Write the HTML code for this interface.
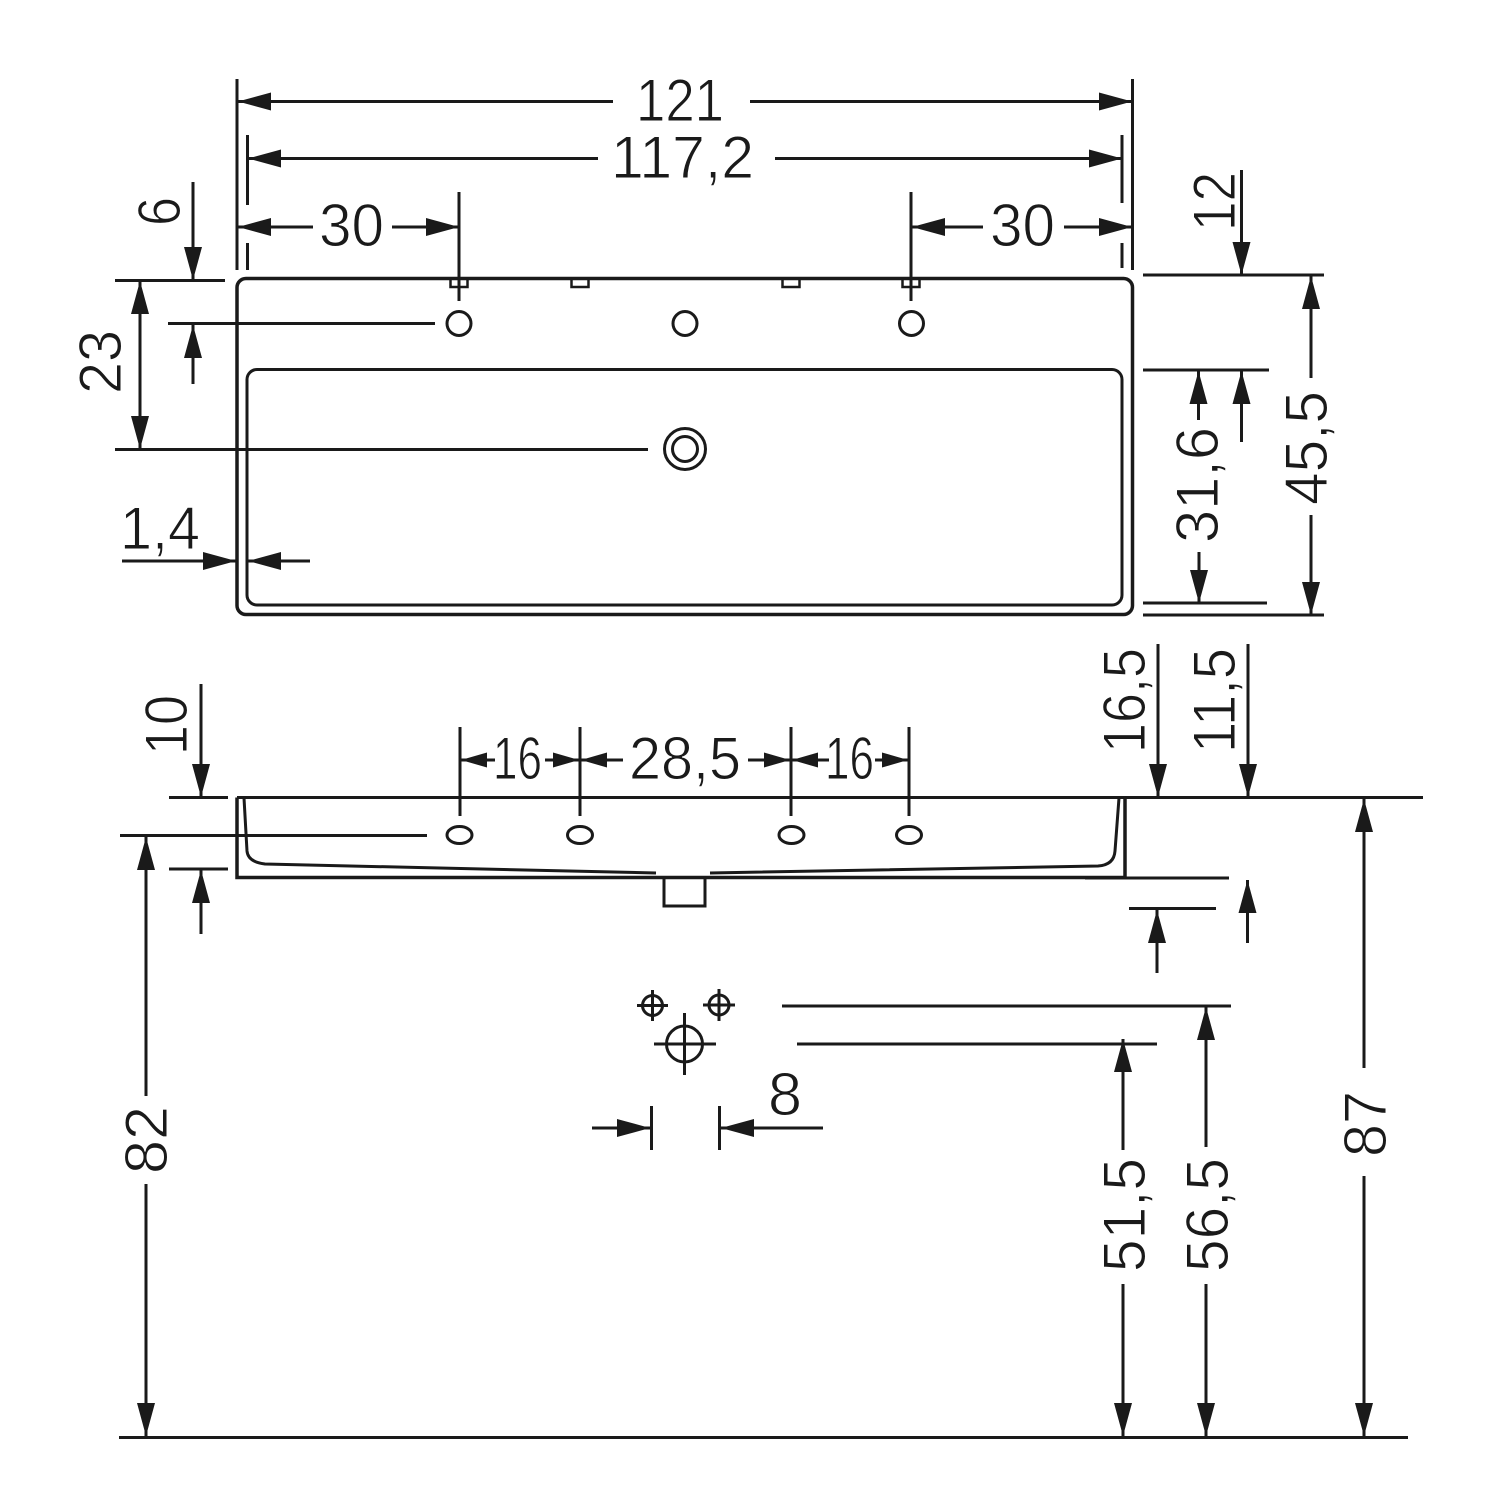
<!DOCTYPE html>
<html><head><meta charset="utf-8"><style>
html,body{margin:0;padding:0;background:#fff}
svg{display:block}
text{font-family:"Liberation Sans",sans-serif;font-size:60px;fill:#1a1a1a;stroke:#fff;stroke-width:1;paint-order:normal}
.l line,.l path,.l rect,.l circle,.l ellipse{stroke:#1a1a1a;fill:none}
.l line{stroke-width:3}
</style></head><body>
<svg width="1500" height="1500" viewBox="0 0 1500 1500" xmlns="http://www.w3.org/2000/svg">
<defs>
<marker id="a" markerUnits="userSpaceOnUse" markerWidth="34" markerHeight="18" refX="33" refY="9" orient="auto"><polygon points="0,0 33,9 0,18" fill="#1a1a1a"/></marker>
<marker id="s" markerUnits="userSpaceOnUse" markerWidth="27" markerHeight="16" refX="26" refY="7.5" orient="auto"><polygon points="0,0 26,7.5 0,15" fill="#1a1a1a"/></marker>
</defs>
<rect width="1500" height="1500" fill="#fff"/>
<g class="l">
<!-- top view shapes -->
<rect x="237" y="278.5" width="895.5" height="336" rx="9" stroke-width="3.5"/>
<rect x="247" y="369.5" width="875" height="235.5" rx="10" stroke-width="3"/>
<rect x="450.5" y="278.5" width="17" height="8.5" stroke-width="2.5"/>
<rect x="571.5" y="278.5" width="17" height="8.5" stroke-width="2.5"/>
<rect x="782.5" y="278.5" width="17" height="8.5" stroke-width="2.5"/>
<rect x="902.5" y="278.5" width="17" height="8.5" stroke-width="2.5"/>
<circle cx="459" cy="323.5" r="12" stroke-width="3"/>
<circle cx="685" cy="323.5" r="12" stroke-width="3"/>
<circle cx="911.5" cy="323.5" r="12" stroke-width="3"/>
<circle cx="685" cy="449" r="20.5" stroke-width="3"/>
<circle cx="685" cy="449" r="12.5" stroke-width="3"/>

<!-- top view extension lines -->
<line x1="237" y1="79" x2="237" y2="270"/>
<line x1="247.5" y1="135" x2="247.5" y2="205"/>
<line x1="247.5" y1="243" x2="247.5" y2="270"/>
<line x1="1132.5" y1="79" x2="1132.5" y2="270"/>
<line x1="1122" y1="135" x2="1122" y2="203"/>
<line x1="1122" y1="243" x2="1122" y2="268"/>
<line x1="459" y1="192" x2="459" y2="301"/>
<line x1="911" y1="192" x2="911" y2="301"/>
<line x1="115" y1="280.5" x2="225" y2="280.5"/>
<line x1="168" y1="323.5" x2="435" y2="323.5"/>
<line x1="115" y1="449.5" x2="648" y2="449.5"/>
<line x1="1143" y1="275" x2="1324" y2="275"/>
<line x1="1143" y1="370" x2="1269" y2="370"/>
<line x1="1143" y1="603" x2="1267" y2="603"/>
<line x1="1143" y1="615" x2="1324" y2="615"/>

<!-- top view dimensions -->
<line x1="613" y1="101.5" x2="238" y2="101.5" marker-end="url(#a)"/>
<line x1="750" y1="101.5" x2="1132" y2="101.5" marker-end="url(#a)"/>
<line x1="598" y1="158.5" x2="248" y2="158.5" marker-end="url(#a)"/>
<line x1="775" y1="158.5" x2="1122" y2="158.5" marker-end="url(#a)"/>
<line x1="313" y1="227" x2="238" y2="227" marker-end="url(#a)"/>
<line x1="392" y1="227" x2="459" y2="227" marker-end="url(#a)"/>
<line x1="983" y1="227" x2="912" y2="227" marker-end="url(#a)"/>
<line x1="1064" y1="227" x2="1132" y2="227" marker-end="url(#a)"/>
<line x1="193" y1="182" x2="193" y2="280" marker-end="url(#a)"/>
<line x1="193" y1="384" x2="193" y2="325" marker-end="url(#a)"/>
<line x1="140" y1="365" x2="140" y2="281" marker-end="url(#a)"/>
<line x1="140" y1="365" x2="140" y2="449" marker-end="url(#a)"/>
<line x1="122" y1="561" x2="236" y2="561" marker-end="url(#a)"/>
<line x1="310" y1="561" x2="248" y2="561" marker-end="url(#a)"/>
<line x1="1241.5" y1="170" x2="1241.5" y2="275" marker-end="url(#a)"/>
<line x1="1198.5" y1="420" x2="1198.5" y2="371" marker-end="url(#a)"/>
<line x1="1241.5" y1="442" x2="1241.5" y2="371" marker-end="url(#a)"/>
<line x1="1199" y1="552" x2="1199" y2="603" marker-end="url(#a)"/>
<line x1="1311" y1="378" x2="1311" y2="276" marker-end="url(#a)"/>
<line x1="1311" y1="515" x2="1311" y2="615" marker-end="url(#a)"/>

<!-- side view -->
<path d="M237 797.5V877.5H1125V797.5" stroke-width="3.5"/>
<line x1="237" y1="797.5" x2="1423" y2="797.5"/>
<line x1="1085" y1="878" x2="1229" y2="878"/>
<path d="M244 798L247 851Q248 862 265 864L656 873" stroke-width="3"/>
<path d="M710 873L1098 866Q1114 865 1115 851L1119 798" stroke-width="3"/>
<path d="M664 878V906H705V878" stroke-width="3"/>
<ellipse cx="459.500" cy="835" rx="12.500" ry="8.500" stroke-width="3"/>
<ellipse cx="580" cy="835" rx="12.500" ry="8.500" stroke-width="3"/>
<ellipse cx="791.500" cy="835" rx="12.500" ry="8.500" stroke-width="3"/>
<ellipse cx="909" cy="835" rx="12.500" ry="8.500" stroke-width="3"/>
<line x1="460" y1="727" x2="460" y2="816"/>
<line x1="580" y1="727" x2="580" y2="816"/>
<line x1="791" y1="727" x2="791" y2="816"/>
<line x1="909" y1="727" x2="909" y2="816"/>
<line x1="169" y1="797.500" x2="228" y2="797.500"/>
<line x1="120" y1="835.500" x2="427" y2="835.500"/>
<line x1="169" y1="869" x2="228" y2="869"/>
<line x1="1129" y1="908.500" x2="1216" y2="908.500"/>

<!-- side dimensions -->
<line x1="495" y1="760" x2="461" y2="760" marker-end="url(#s)"/>
<line x1="545" y1="760" x2="579" y2="760" marker-end="url(#s)"/>
<line x1="623" y1="760" x2="581" y2="760" marker-end="url(#s)"/>
<line x1="748" y1="760" x2="790" y2="760" marker-end="url(#s)"/>
<line x1="829" y1="760" x2="792" y2="760" marker-end="url(#s)"/>
<line x1="875" y1="760" x2="908" y2="760" marker-end="url(#s)"/>
<line x1="201" y1="684" x2="201" y2="797" marker-end="url(#a)"/>
<line x1="201" y1="934" x2="201" y2="870" marker-end="url(#a)"/>
<line x1="1158" y1="644" x2="1158" y2="797" marker-end="url(#a)"/>
<line x1="1248" y1="644" x2="1248" y2="797" marker-end="url(#a)"/>
<line x1="1157" y1="973" x2="1157" y2="910" marker-end="url(#a)"/>
<line x1="1247.500" y1="943" x2="1247.500" y2="880" marker-end="url(#a)"/>

<!-- holes -->
<circle cx="652.500" cy="1005.500" r="10" stroke-width="3"/>
<line x1="637" y1="1005.500" x2="668" y2="1005.500"/>
<line x1="652.500" y1="990" x2="652.500" y2="1021"/>
<circle cx="719" cy="1005" r="10" stroke-width="3"/>
<line x1="703" y1="1005" x2="735" y2="1005"/>
<line x1="719" y1="989" x2="719" y2="1021"/>
<circle cx="684.500" cy="1044" r="18" stroke-width="3"/>
<line x1="654" y1="1044" x2="716" y2="1044"/>
<line x1="684.500" y1="1013" x2="684.500" y2="1075"/>
<line x1="651.500" y1="1106" x2="651.500" y2="1150"/>
<line x1="719.500" y1="1106" x2="719.500" y2="1150"/>
<line x1="592" y1="1128" x2="650" y2="1128" marker-end="url(#a)"/>
<line x1="823" y1="1128" x2="721" y2="1128" marker-end="url(#a)"/>
<line x1="782" y1="1006" x2="1231" y2="1006"/>
<line x1="797" y1="1044" x2="1157" y2="1044"/>

<!-- long verticals -->
<line x1="119" y1="1437.500" x2="1408" y2="1437.500"/>
<line x1="146" y1="1096" x2="146" y2="837" marker-end="url(#a)"/>
<line x1="146" y1="1184" x2="146" y2="1436" marker-end="url(#a)"/>
<line x1="1364" y1="1068" x2="1364" y2="799" marker-end="url(#a)"/>
<line x1="1364" y1="1176" x2="1364" y2="1436" marker-end="url(#a)"/>
<line x1="1123" y1="1150" x2="1123" y2="1039" marker-end="url(#a)"/>
<line x1="1123" y1="1284" x2="1123" y2="1436" marker-end="url(#a)"/>
<line x1="1206" y1="1147" x2="1206" y2="1007" marker-end="url(#a)"/>
<line x1="1206" y1="1284" x2="1206" y2="1436" marker-end="url(#a)"/>
</g>

<!-- horizontal labels -->
<text x="636" y="121" textLength="88" lengthAdjust="spacingAndGlyphs">121</text>
<text x="611" y="178" textLength="143" lengthAdjust="spacingAndGlyphs">117,2</text>
<text x="319" y="246" textLength="65" lengthAdjust="spacingAndGlyphs">30</text>
<text x="990" y="246" textLength="65" lengthAdjust="spacingAndGlyphs">30</text>
<text x="120" y="549" textLength="80" lengthAdjust="spacingAndGlyphs">1,4</text>
<text x="493" y="779" textLength="49" lengthAdjust="spacingAndGlyphs">16</text>
<text x="629" y="779" textLength="112" lengthAdjust="spacingAndGlyphs">28,5</text>
<text x="825" y="779" textLength="49" lengthAdjust="spacingAndGlyphs">16</text>
<text x="768" y="1115" textLength="34" lengthAdjust="spacingAndGlyphs">8</text>

<!-- rotated labels -->
<text transform="translate(180,226) rotate(-90)" textLength="29" lengthAdjust="spacingAndGlyphs">6</text>
<text transform="translate(121,394) rotate(-90)" textLength="64" lengthAdjust="spacingAndGlyphs">23</text>
<text transform="translate(187,755) rotate(-90)" textLength="60" lengthAdjust="spacingAndGlyphs">10</text>
<text transform="translate(1145,753) rotate(-90)" textLength="105" lengthAdjust="spacingAndGlyphs">16,5</text>
<text transform="translate(1235,753) rotate(-90)" textLength="105" lengthAdjust="spacingAndGlyphs">11,5</text>
<text transform="translate(1235,231) rotate(-90)" textLength="59" lengthAdjust="spacingAndGlyphs">12</text>
<text transform="translate(1218,543) rotate(-90)" textLength="116" lengthAdjust="spacingAndGlyphs">31,6</text>
<text transform="translate(1327,505) rotate(-90)" textLength="114" lengthAdjust="spacingAndGlyphs">45,5</text>
<text transform="translate(167,1174) rotate(-90)" textLength="68" lengthAdjust="spacingAndGlyphs">82</text>
<text transform="translate(1386,1157) rotate(-90)" textLength="66" lengthAdjust="spacingAndGlyphs">87</text>
<text transform="translate(1145,1272) rotate(-90)" textLength="114" lengthAdjust="spacingAndGlyphs">51,5</text>
<text transform="translate(1228,1272) rotate(-90)" textLength="114" lengthAdjust="spacingAndGlyphs">56,5</text>
</svg>
</body></html>
